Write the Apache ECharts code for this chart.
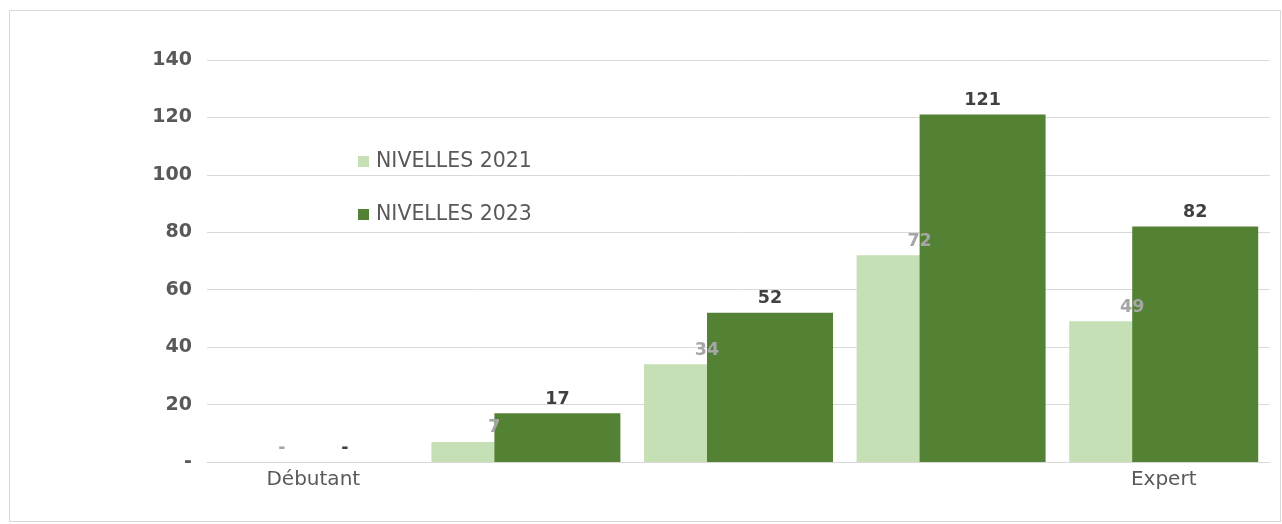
<!DOCTYPE html>
<html>
<head>
<meta charset="utf-8">
<script src="https://cdn.jsdelivr.net/npm/echarts@6/dist/echarts.min.js"></script>
<style>
html,body{margin:0;padding:0;background:#fff;}
#frame{position:absolute;left:9px;top:10px;width:1272px;height:512px;border:1px solid #d9d9d9;box-sizing:border-box;}
#chart{position:absolute;left:0;top:0;width:1282px;height:524px;}
</style>
</head>
<body>
<div id="frame"></div>
<div id="chart"></div>
<script>
const categories = ['Débutant', '', '', '', 'Expert'];
const seriesNames = ['NIVELLES 2021', 'NIVELLES 2023'];
const values2021 = [0, 7, 34, 72, 49];
const values2023 = [0, 17, 52, 121, 82];
const yTicks = [0, 20, 40, 60, 80, 100, 120, 140];

const FONT = "'DejaVu Sans', Verdana, sans-serif";
const chart = echarts.init(document.getElementById('chart'), null, {renderer: 'canvas'});

function lbl(color) {
  return {
    show: true,
    position: 'top',
    distance: 5,
    fontFamily: FONT,
    fontWeight: 'bold',
    fontSize: 17.5,
    color: color,
    formatter: p => (p.value === 0 ? '-' : String(p.value))
  };
}

chart.setOption({
  animation: false,
  backgroundColor: 'transparent',
  grid: {left: 207, right: 12, top: 60, bottom: 62, containLabel: false},
  legend: {
    orient: 'vertical',
    left: 353,
    top: 146,
    itemWidth: 11,
    itemHeight: 11,
    itemGap: 32,
    icon: 'rect',
    textStyle: {fontFamily: FONT, fontSize: 20.5, color: '#595959', padding: [0, 0, 0, 2]},
    data: seriesNames
  },
  xAxis: {
    type: 'category',
    data: categories,
    axisLine: {show: true, lineStyle: {color: '#d9d9d9', width: 1}},
    axisTick: {show: false},
    axisLabel: {interval: 0, fontFamily: FONT, fontSize: 20, color: '#595959', margin: 8}
  },
  yAxis: {
    type: 'value',
    min: yTicks[0],
    max: yTicks[yTicks.length - 1],
    interval: 20,
    axisLine: {show: false},
    axisTick: {show: false},
    splitLine: {lineStyle: {color: '#d9d9d9', width: 1}},
    axisLabel: {
      fontFamily: FONT, fontWeight: 'bold', fontSize: 19, color: '#595959', margin: 15,
      formatter: v => (v === 0 ? '-' : String(v))
    }
  },
  series: [
    {
      name: seriesNames[0],
      type: 'bar',
      data: values2021,
      barWidth: 126,
      barGap: '-50%',
      itemStyle: {color: '#c5e0b4'},
      label: lbl('#a6a6a6')
    },
    {
      name: seriesNames[1],
      type: 'bar',
      data: values2023,
      barWidth: 126,
      barGap: '-50%',
      itemStyle: {color: '#548235'},
      label: lbl('#404040')
    }
  ]
});
</script>
</body>
</html>
